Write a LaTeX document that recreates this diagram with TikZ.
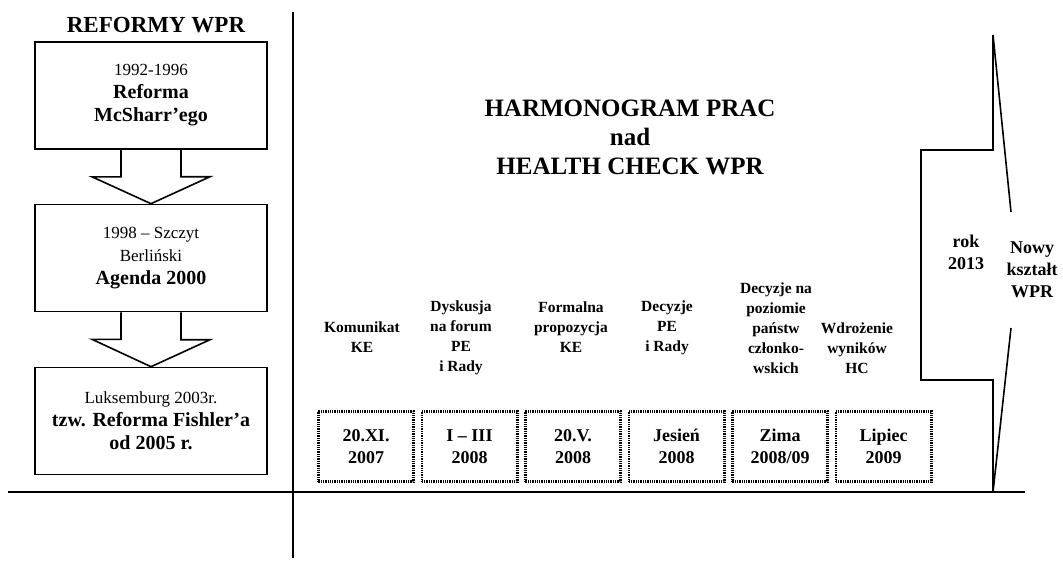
\documentclass[tikz,border=0pt]{standalone}
\usepackage{fontspec}
\setmainfont{Liberation Serif}
\usepackage{tikz}
\usetikzlibrary{positioning}
\newcommand{\yeartext}[1]{{\mdseries\fontsize{17}{23}\selectfont #1}}

\begin{document}
\begin{tikzpicture}[
      x=1pt, y=-1pt,
      line width=1.6pt,
      reform/.style={draw, minimum width=232pt, minimum height=107pt, align=center, inner sep=2pt, font=\fontsize{20}{23}\selectfont\bfseries},
      datebox/.style={draw, line width=2.6pt, dash pattern=on 1.3pt off 1pt, minimum width=95.4pt, minimum height=70.4pt, align=center, font=\fontsize{18}{22}\selectfont\bfseries},
      stage/.style={align=center, font=\fontsize{15.5}{20}\selectfont\bfseries},
      heading/.style={align=center, font=\fontsize{25}{29}\selectfont\bfseries},
      side/.style={align=center, font=\fontsize{18}{22}\selectfont\bfseries},
    ]
    \useasboundingbox (0,0) rectangle (1063,560);
    % axes
    \draw (293,12) -- (293,558);
    \draw (8,492) -- (1025,492);
    % reforms column
    \node[font=\fontsize{23}{26}\selectfont\bfseries] (ref) at (156,25) {REFORMY WPR};
    \node[reform] (b1) at (151,95.5) {\yeartext{1992-1996}\\Reforma\\McSharr'ego};
    \node[reform] (b2) at (151,258) {\yeartext{1998 -- Szczyt}\\\yeartext{Berliński}\\Agenda 2000};
    \node[reform] (b3) at (151,421) {\yeartext{Luksemburg 2003r.}\\tzw. Reforma Fishler'a\\od 2005 r.};
    \draw ([xshift=-30pt]b1.south) -- ++(0,27) -- ++(-29,0) -- (b2.north) -- ++(59,-27) -- ++(-29,0) -- ([xshift=30pt]b1.south);
    \draw ([xshift=-30pt]b2.south) -- ++(0,27) -- ++(-29,0) -- (b3.north) -- ++(59,-27) -- ++(-29,0) -- ([xshift=30pt]b2.south);
    % title
    \node[heading] (title) at (630,137) {HARMONOGRAM PRAC\\nad\\HEALTH CHECK WPR};
    % timeline
    \node[datebox] (d1) at (366,446.5) {20.XI.\\2007};
    \node[datebox, right=5.5pt of d1] (d2) {I -- III\\2008};
    \node[datebox, right=5.5pt of d2] (d3) {20.V.\\2008};
    \node[datebox, right=5.5pt of d3] (d4) {Jesień\\2008};
    \node[datebox, right=5.5pt of d4] (d5) {Zima\\2008/09};
    \node[datebox, right=5.5pt of d5] (d6) {Lipiec\\2009};
    \node[stage] (s1) at (362,337.5) {Komunikat\\KE};
    \node[stage] (s2) at (461,338) {Dyskusja\\na forum\\PE\\i Rady};
    \node[stage] (s3) at (571,327.5) {Formalna\\propozycja\\KE};
    \node[stage] (s4) at (667,327.5) {Decyzje\\PE\\i Rady};
    \node[stage] (s5) at (776,328) {Decyzje na\\poziomie\\państw\\członko-\\wskich};
    \node[stage] (s6) at (857,348) {Wdrożenie\\wyników\\HC};
    % 2013
    \draw (993,35) -- (993,150) -- (921,150) -- (921,380) -- (993,380) -- (993,492);
    \draw (993,35) -- (1011,212);
    \draw (1011,328) -- (993,492);
    \node[side] (rok) at (966,252) {rok\\2013};
    \node[side] (nowy) at (1032,270) {Nowy\\kształt\\WPR};
  \end{tikzpicture}
\end{document}
